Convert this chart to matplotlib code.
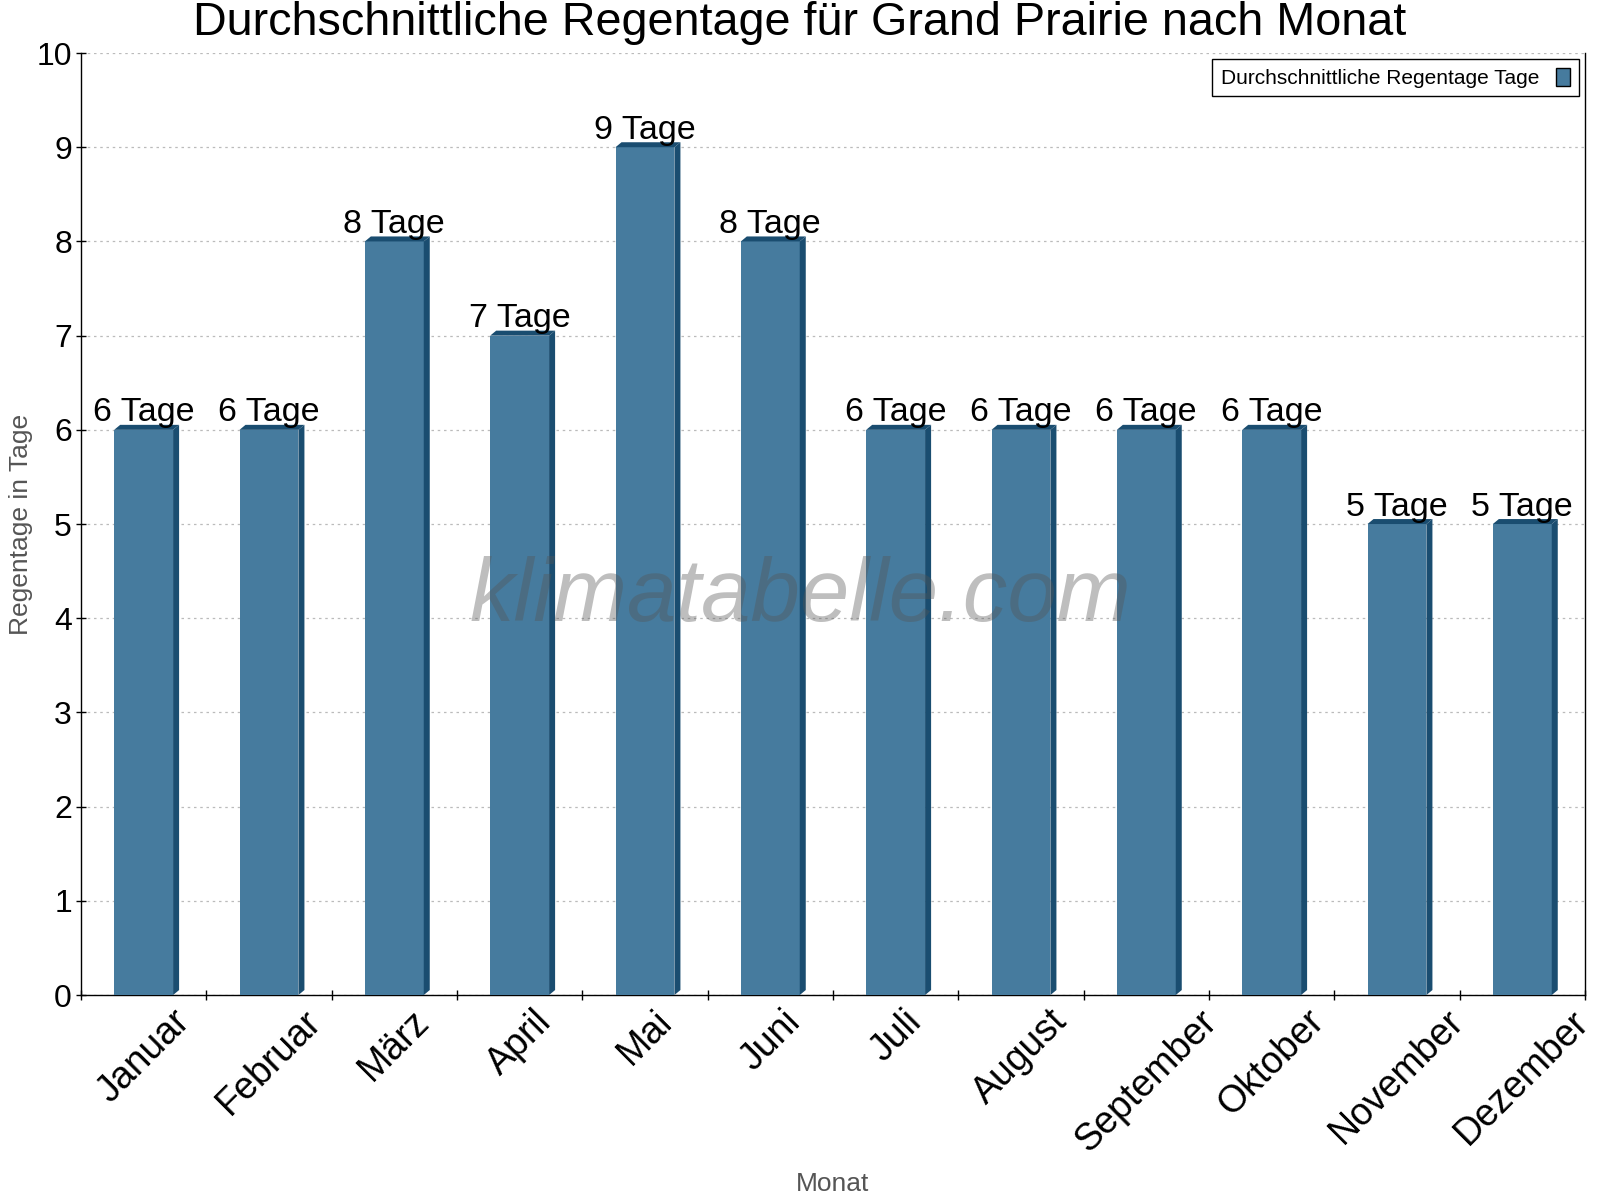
import numpy as np
import matplotlib
matplotlib.use("Agg")
import matplotlib.pyplot as plt
from matplotlib.patches import Polygon, Patch

plt.rcParams['font.family'] = ['Liberation Sans', 'DejaVu Sans']

# ---- Data ----
MONTHS = ['Januar', 'Februar', 'März', 'April', 'Mai', 'Juni', 'Juli',
          'August', 'September', 'Oktober', 'November', 'Dezember']
RAIN_DAYS = [6, 6, 8, 7, 9, 8, 6, 6, 6, 6, 5, 5]
BAR_LABELS = [f'{v} Tage' for v in RAIN_DAYS]

TITLE = 'Durchschnittliche Regentage für Grand Prairie nach Monat'
LEGEND_LABEL = 'Durchschnittliche Regentage Tage'
Y_LABEL = 'Regentage in Tage'
X_LABEL = 'Monat'
WATERMARK = 'klimatabelle.com'

FRONT = '#467b9e'
SIDE = '#1a4d70'
BAR_WIDTH = 0.47
DEPTH_X = 0.048   # fake 3d depth, category units
DEPTH_Y = 0.053   # fake 3d depth, value units

fig = plt.figure(figsize=(16, 12), dpi=100)
ax = fig.add_axes([0.0506, 0.1708, 0.94, 0.785])

x = np.arange(len(MONTHS))
bars = ax.bar(x, RAIN_DAYS, width=BAR_WIDTH, color=FRONT, zorder=3)

# side + top faces for the pseudo-3d look
for xi, h in zip(x, RAIN_DAYS):
    x0, x1 = xi - BAR_WIDTH / 2, xi + BAR_WIDTH / 2
    side = Polygon([(x1, 0), (x1 + DEPTH_X, DEPTH_Y), (x1 + DEPTH_X, h + DEPTH_Y), (x1, h)],
                   closed=True, facecolor=SIDE, edgecolor='none', zorder=3)
    top = Polygon([(x0, h), (x0 + DEPTH_X, h + DEPTH_Y), (x1 + DEPTH_X, h + DEPTH_Y), (x1, h)],
                  closed=True, facecolor=SIDE, edgecolor='none', zorder=3)
    ax.add_patch(side)
    ax.add_patch(top)

ax.bar_label(bars, labels=BAR_LABELS, padding=1, fontsize=24.5, color='black', zorder=5)

ax.set_xlim(-0.5, len(MONTHS) - 0.5)
ax.set_ylim(0, 10)
ax.set_yticks(np.arange(0, 11, 1))
ax.set_xticks(x)
ax.set_xticklabels(MONTHS, rotation=45, ha='center', va='top')
ax.set_xticks(np.arange(-0.5, len(MONTHS), 1), minor=True)

ax.tick_params(axis='x', which='major', length=0, pad=6, labelsize=27)
ax.tick_params(axis='x', which='minor', direction='inout', length=7, width=1)
ax.tick_params(axis='y', direction='inout', length=7, width=1, pad=3, labelsize=23)

ax.grid(axis='y', linestyle=(0, (2, 3)), color='#bbbbbb', linewidth=0.9)
ax.set_axisbelow(True)

ax.spines['top'].set_visible(False)
for s in ('left', 'bottom', 'right'):
    ax.spines[s].set_linewidth(1.0)

ax.set_ylabel(Y_LABEL, fontsize=19, color='#555555')
ax.yaxis.set_label_coords(-0.032, 0.5)
ax.set_xlabel(X_LABEL, fontsize=19, color='#555555')
ax.xaxis.set_label_coords(0.5, -0.188)

handle = Patch(facecolor=FRONT, edgecolor='black', linewidth=1)
leg = ax.legend([handle], [LEGEND_LABEL], loc='upper right', fontsize=15,
                markerfirst=False, fancybox=False, framealpha=1,
                edgecolor='black', borderaxespad=0.3, handlelength=0.7,
                handleheight=1.0, handletextpad=0.8, borderpad=0.4)
leg.get_frame().set_linewidth(1.0)

fig.text(0.5, 0.981, TITLE, ha='center', va='center', fontsize=33.7)
fig.text(0.5, 0.502, WATERMARK, ha='center', va='center', fontsize=64,
         style='italic', color='#555555', alpha=0.38, zorder=10)

fig.savefig('out.png', dpi=100)
